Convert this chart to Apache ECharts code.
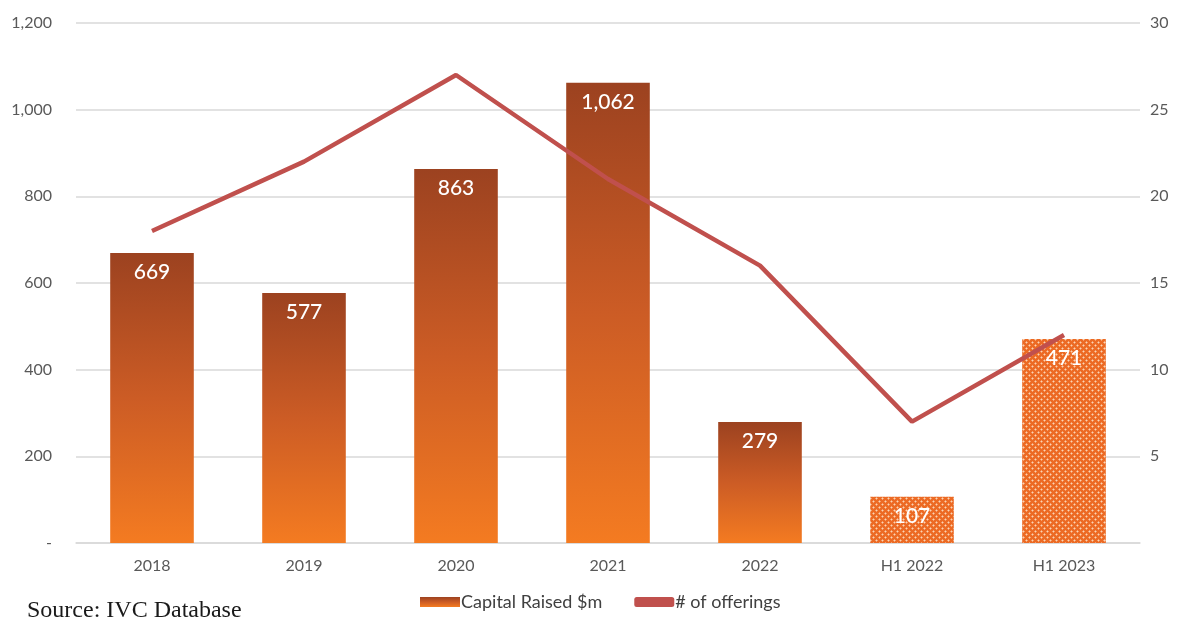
<!DOCTYPE html>
<html>
<head>
<meta charset="utf-8">
<script src="https://cdn.jsdelivr.net/npm/echarts@6/dist/echarts.min.js"></script>
<style>
  html, body { margin: 0; padding: 0; background: #fff; }
  #chart { width: 1190px; height: 617px; }
</style>
</head>
<body>
<div id="chart"></div>
<script>
  var categories = ['2018', '2019', '2020', '2021', '2022', 'H1 2022', 'H1 2023'];
  var capitalRaised = [669, 577, 863, 1062, 279, 107, 471];
  var offerings = [18, 22, 27, 21, 16, 7, 12];
  var halfYear = [false, false, false, false, false, true, true];

  // dotted fill used on the half-year bars
  function makePattern() {
    var c = document.createElement('canvas');
    c.width = 6; c.height = 6;
    var ctx = c.getContext('2d');
    ctx.fillStyle = '#EC6A24';
    ctx.fillRect(0, 0, 6, 6);
    ctx.fillStyle = '#FAD3B6';
    ctx.fillRect(0, 0, 1, 1);
    ctx.fillRect(3, 3, 1, 1);
    ctx.fillStyle = '#F4A06C';
    ctx.fillRect(1, 0, 1, 1);
    ctx.fillRect(0, 1, 1, 1);
    ctx.fillRect(5, 0, 1, 1);
    ctx.fillRect(0, 5, 1, 1);
    ctx.fillRect(4, 3, 1, 1);
    ctx.fillRect(3, 4, 1, 1);
    ctx.fillRect(2, 3, 1, 1);
    ctx.fillRect(3, 2, 1, 1);
    return c;
  }

  var gradient = new echarts.graphic.LinearGradient(0, 0, 0, 1, [
    { offset: 0, color: '#9C4220' },
    { offset: 0.5, color: '#CC5C25' },
    { offset: 1, color: '#F47B21' }
  ]);
  var pattern = { image: makePattern(), repeat: 'repeat' };

  var barData = capitalRaised.map(function (v, i) {
    return {
      value: v,
      itemStyle: { color: halfYear[i] ? pattern : gradient }
    };
  });

  var chart = echarts.init(document.getElementById('chart'));
  var axisFont = { color: '#595959', fontSize: 16, fontFamily: 'Lato' };

  chart.setOption({
    animation: false,
    grid: { left: 76, right: 50, top: 23, bottom: 74 },
    legend: {
      bottom: 1,
      left: 415,
      itemGap: 32,
      itemWidth: 40,
      itemHeight: 10,
      textStyle: { color: '#404040', fontSize: 18, fontFamily: 'Lato', padding: [0, 0, 0, -4] },
      data: [
        { name: 'Capital Raised $m', icon: 'rect', itemStyle: { color: gradient } },
        { name: '# of offerings', icon: 'roundRect' }
      ]
    },
    graphic: [{
      type: 'text',
      left: 27,
      top: 599,
      style: { text: 'Source: IVC Database', fill: '#1a1a1a', font: '24px "Liberation Serif"' }
    }],
    xAxis: {
      type: 'category',
      data: categories,
      axisLine: { lineStyle: { color: '#D9D9D9', width: 1.5 } },
      axisTick: { show: false },
      axisLabel: Object.assign({ margin: 15 }, axisFont)
    },
    yAxis: [
      {
        type: 'value',
        min: 0,
        max: 1200,
        interval: 200,
        axisLine: { show: false },
        axisTick: { show: false },
        splitLine: { lineStyle: { color: '#D9D9D9', width: 1.5 } },
        axisLabel: Object.assign({
          margin: 24,
          formatter: function (v) { return v === 0 ? '-' : v.toLocaleString('en-US'); }
        }, axisFont)
      },
      {
        type: 'value',
        min: 0,
        max: 30,
        interval: 5,
        axisLine: { show: false },
        axisTick: { show: false },
        splitLine: { show: false },
        axisLabel: Object.assign({
          margin: 10,
          formatter: function (v) { return v === 0 ? '' : String(v); }
        }, axisFont)
      }
    ],
    series: [
      {
        name: 'Capital Raised $m',
        type: 'bar',
        barWidth: '55%',
        data: barData,
        label: {
          show: true,
          position: 'insideTop',
          distance: 9,
          color: '#fff',
          fontSize: 21,
          fontWeight: 500,
          fontFamily: 'Lato',
          formatter: function (p) { return p.value.toLocaleString('en-US'); }
        }
      },
      {
        name: '# of offerings',
        type: 'line',
        yAxisIndex: 1,
        data: offerings,
        symbol: 'none',
        lineStyle: { color: '#C0504D', width: 4.5 },
        itemStyle: { color: '#C0504D' },
        z: 3
      }
    ]
  });
</script>
</body>
</html>
